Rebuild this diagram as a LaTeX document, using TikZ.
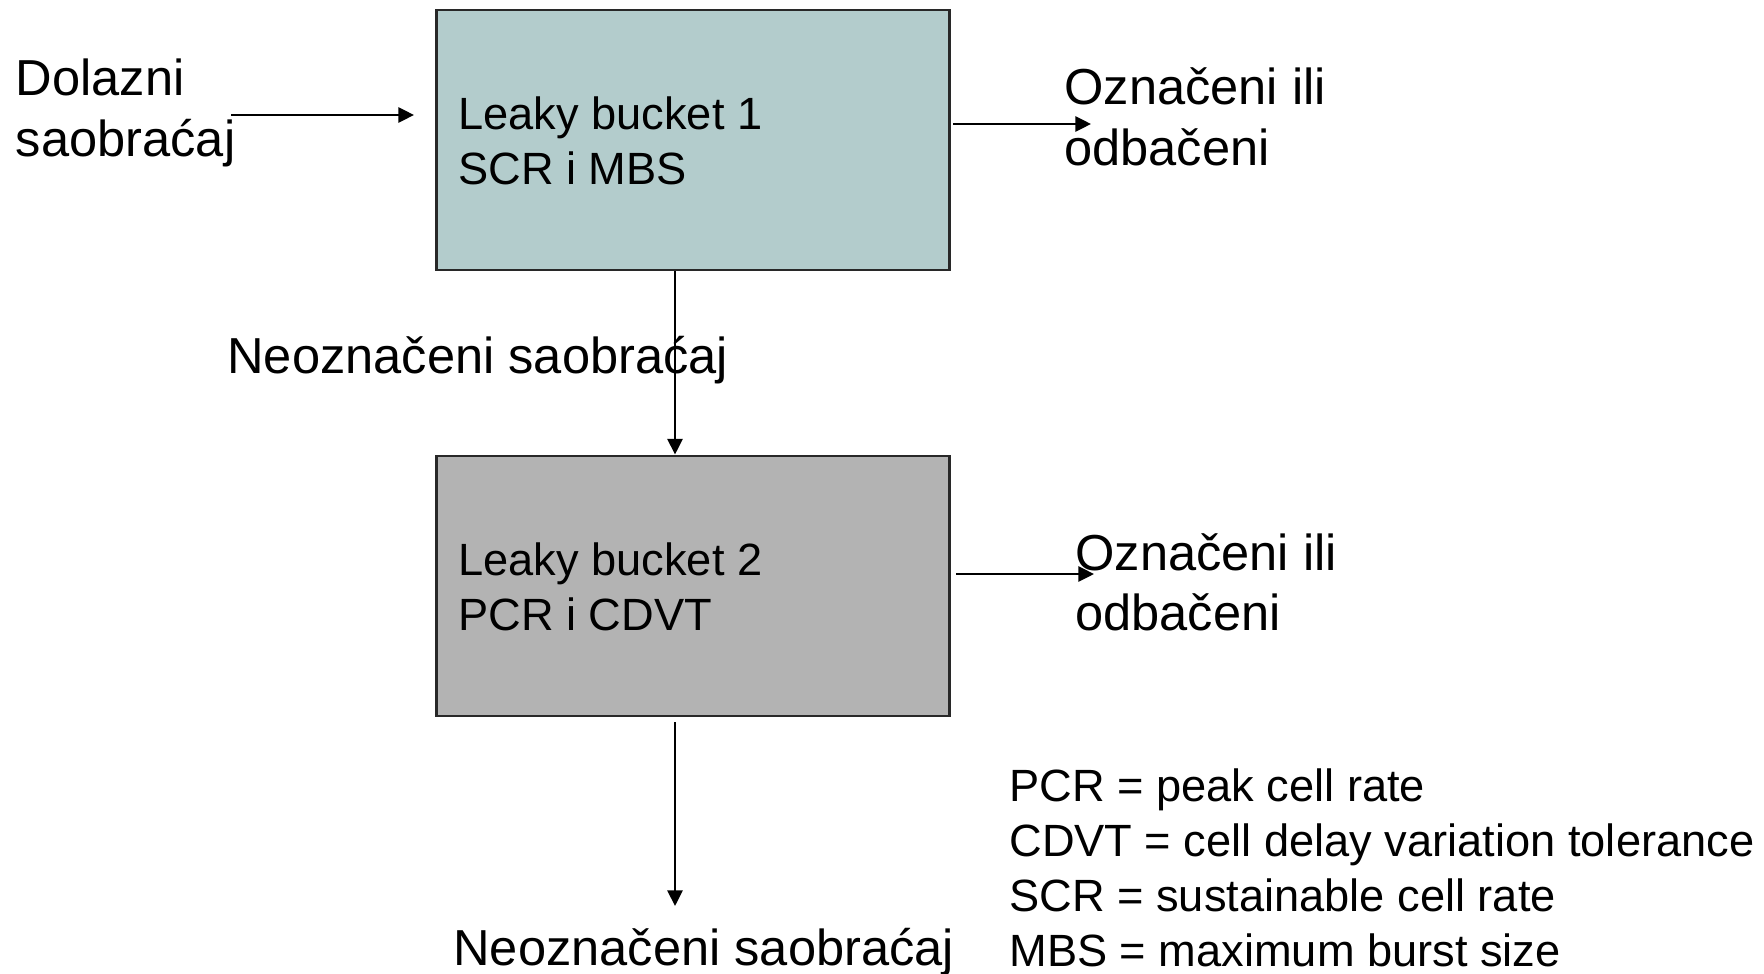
\documentclass[tikz,border=0pt]{standalone}
\usepackage{fontspec}
\setmainfont{Liberation Sans}
\usetikzlibrary{arrows.meta}
\definecolor{tealbox}{RGB}{179,204,204}
\definecolor{graybox}{RGB}{179,179,179}
\definecolor{edgecol}{RGB}{40,40,40}
\newcommand\twolines[2]{\vtop{\hbox{#1}\hbox{#2}}}
\tikzset{
  bigtxt/.style={inner sep=0pt, anchor=base west, font=\fontsize{25.3}{30.4}\selectfont},
  smalltxt/.style={inner sep=0pt, anchor=base west, font=\fontsize{22.6}{27.5}\selectfont},
  bucket/.style={draw=edgecol, line width=1.1pt, minimum width=256.5pt, minimum height=130pt, inner sep=0pt},
  arr/.style={line width=0.9pt, -{Triangle[length=7.8pt,width=7.6pt]}}
}
\begin{document}
\begin{tikzpicture}[x=0.5pt,y=-0.5pt]
\useasboundingbox (0,0) rectangle (1764,973);
% boxes
\node[bucket, fill=tealbox] (b1) at (693,140) {};
\node[bucket, fill=graybox] (b2) at (693,585.6) {};
% box texts
\node[smalltxt] (t1) at (458,130) {\twolines{Leaky bucket 1}{SCR i MBS}};
\node[smalltxt] (t2) at (458,575) {\twolines{Leaky bucket 2}{PCR i CDVT}};
% outer labels
\node[bigtxt] (in) at (15.5,95.5) {\twolines{Dolazni}{saobraćaj}};
\node[bigtxt] (o1) at (1064,105) {\twolines{Označeni ili}{odbačeni}};
\node[bigtxt] (o2) at (1075,570) {\twolines{Označeni ili}{odbačeni}};
\node[bigtxt] (n1) at (227,373.5) {Neoznačeni saobraćaj};
\node[bigtxt] (n2) at (453,965) {Neoznačeni saobraćaj};
% legend
\node[smalltxt] (l1) at (1009,801.5) {PCR = peak cell rate};
\node[smalltxt] (l2) at (1009,856.5) {CDVT = cell delay variation tolerance};
\node[smalltxt] (l3) at (1009,911.5) {SCR = sustainable cell rate};
\node[smalltxt] (l4) at (1009,966) {MBS = maximum burst size};
% connector ends
\coordinate (v) at (675,0);
\coordinate (inS) at (231,115);
\coordinate (inE) at (414,115);
\coordinate (r1S) at (953,124);
\coordinate (r1E) at (1091,124);
\coordinate (r2S) at (956,574);
\coordinate (r2E) at (1094,574);
\coordinate (dS) at (675,722);
\coordinate (dE) at (675,906);
% connectors
\draw[arr] (inS) -- (inE);
\draw[arr] (r1S) -- (r1E);
\draw[arr] (r2S) -- (r2E);
\draw[arr] (b1.south -| v) -- (b2.north -| v);
\draw[arr] (dS) -- (dE);
\end{tikzpicture}
\end{document}
